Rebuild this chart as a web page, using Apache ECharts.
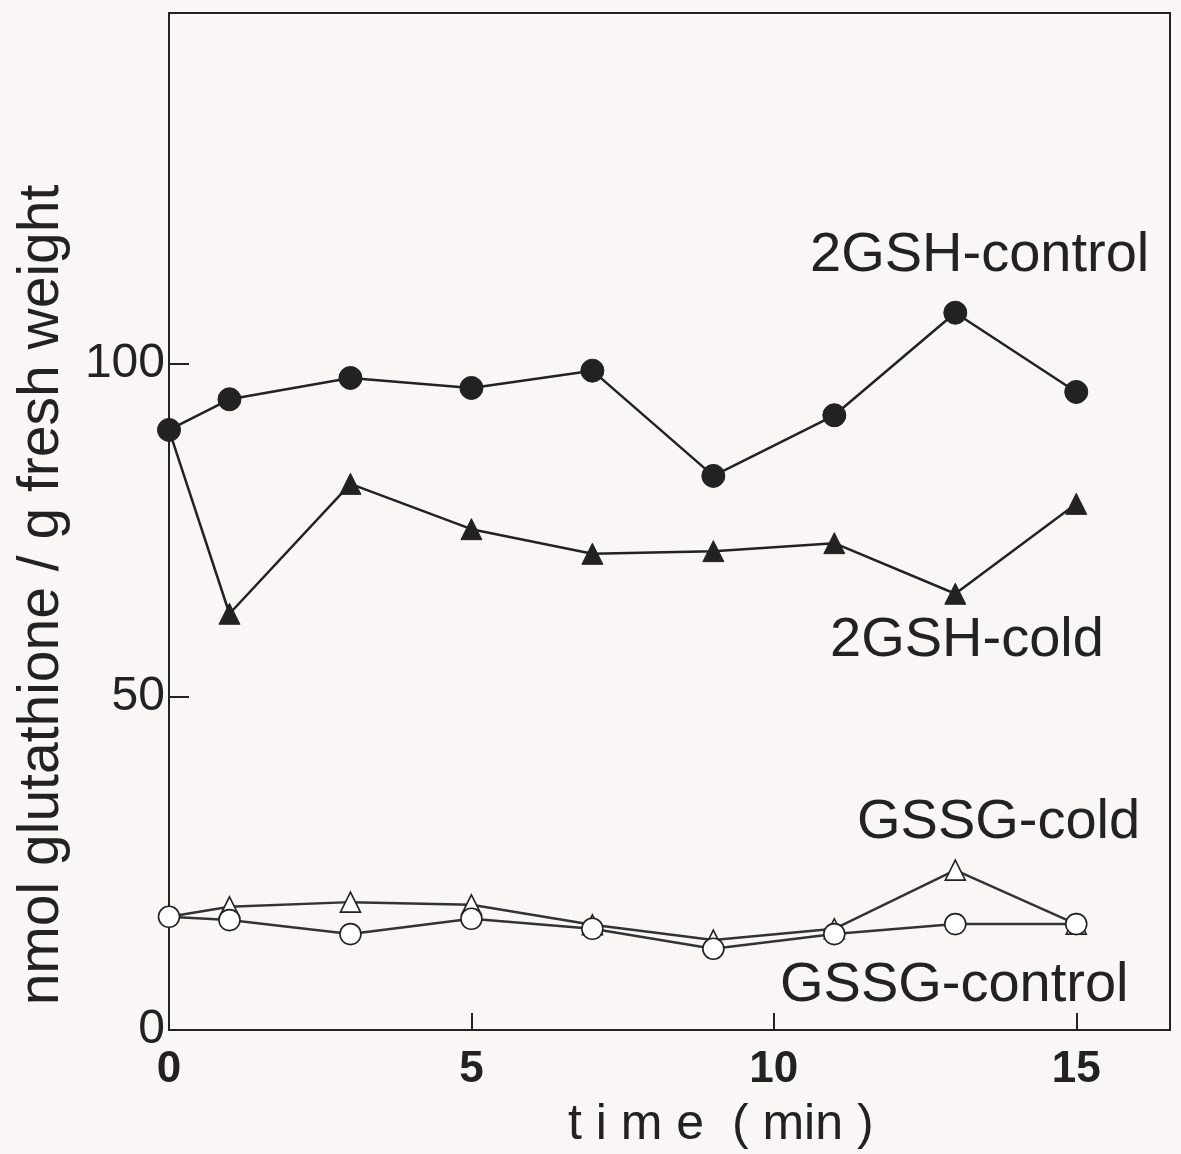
<!DOCTYPE html>
<html>
<head>
<meta charset="utf-8">
<script src="https://cdn.jsdelivr.net/npm/echarts@6/dist/echarts.min.js"></script>
<style>
  html, body { margin: 0; padding: 0; background: #faf6f6; }
  #chart { width: 1181px; height: 1154px; }
</style>
</head>
<body>
<div id="chart"></div>
<script>
var times = [0, 1, 3, 5, 7, 9, 11, 13, 15];
var gshControl = [90.1, 94.7, 97.9, 96.4, 99.0, 83.2, 92.3, 107.7, 95.8];
var gshCold = [90.1, 62.5, 82.0, 75.2, 71.5, 71.9, 73.1, 65.5, 79.0];
var gssgCold = [17.0, 18.5, 19.2, 18.8, 15.8, 13.5, 15.2, 24.0, 15.9];
var gssgControl = [17.0, 16.5, 14.4, 16.7, 15.2, 12.2, 14.4, 15.9, 15.9];
var xTicks = [0, 5, 10, 15];
var yTicks = [0, 50, 100];

var font = 'Liberation Sans, Arial, Helvetica, sans-serif';

function pairs(vals, skipFirst) {
  return times.map(function (t, i) {
    var p = { value: [t, vals[i]] };
    if (skipFirst && i === 0) p.symbol = 'none';
    return p;
  });
}

function label(text, x, y) {
  return { type: 'text', x: x, y: y,
    style: { text: text, fill: '#222', font: '56px ' + font, verticalAlign: 'middle' } };
}

var myChart = echarts.init(document.getElementById('chart'));
var option = {
  backgroundColor: '#faf6f6',
  animation: false,
  grid: {
    left: 169, right: 11, top: 13, bottom: 124,
    show: true, borderColor: '#222', borderWidth: 2
  },
  xAxis: {
    type: 'value', min: 0, max: 16.55, interval: 5,
    axisLine: { lineStyle: { color: '#222', width: 2 } },
    axisTick: { inside: true, length: 17, lineStyle: { color: '#222', width: 2 },
      customValues: [5, 10, 15] },
    splitLine: { show: false },
    axisLabel: { color: '#222', fontSize: 44, fontWeight: 'bold', fontFamily: font, margin: 18,
      customValues: xTicks }
  },
  yAxis: {
    type: 'value', min: 0, max: 152.7, interval: 50,
    axisLine: { lineStyle: { color: '#222', width: 2 } },
    axisTick: { inside: true, length: 20, lineStyle: { color: '#222', width: 2 },
      customValues: [50, 100] },
    splitLine: { show: false },
    axisLabel: { color: '#222', fontSize: 48, fontFamily: font, margin: 4,
      customValues: yTicks }
  },
  series: [
    {
      name: '2GSH-control', type: 'line', data: pairs(gshControl, false),
      symbol: 'circle', symbolSize: 23, z: 5,
      lineStyle: { color: '#222', width: 2.5 },
      itemStyle: { color: '#222', borderColor: '#222' }
    },
    {
      name: '2GSH-cold', type: 'line', data: pairs(gshCold, true),
      symbol: 'triangle', symbolSize: 21,
      lineStyle: { color: '#222', width: 2.5 },
      itemStyle: { color: '#222', borderColor: '#222' }
    },
    {
      name: 'GSSG-cold', type: 'line', data: pairs(gssgCold, true),
      symbol: 'triangle', symbolSize: 20,
      lineStyle: { color: '#333', width: 2.5 },
      itemStyle: { color: '#fff', borderColor: '#222', borderWidth: 1.6 }
    },
    {
      name: 'GSSG-control', type: 'line', data: pairs(gssgControl, false),
      symbol: 'circle', symbolSize: 21,
      lineStyle: { color: '#333', width: 2.5 },
      itemStyle: { color: '#fff', borderColor: '#222', borderWidth: 1.6 }
    }
  ],
  graphic: [
    label('2GSH-control', 810, 256),
    label('2GSH-cold', 830, 641),
    label('GSSG-cold', 857, 823),
    label('GSSG-control', 780, 986),
    { type: 'text', x: 568, y: 1125,
      style: { text: 't i m e  ( min )', fill: '#222', font: '50px ' + font, verticalAlign: 'middle' } },
    { type: 'text', x: 42, y: 595, rotation: Math.PI / 2,
      style: { text: 'nmol glutathione / g fresh weight', fill: '#222', font: '57px ' + font,
        align: 'center', verticalAlign: 'middle' } }
  ]
};
myChart.setOption(option);
</script>
</body>
</html>
